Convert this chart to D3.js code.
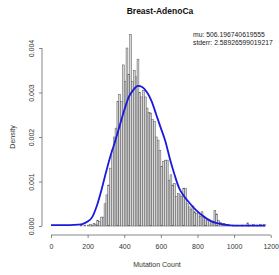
<!DOCTYPE html>
<html><head><meta charset="utf-8">
<script src="https://cdn.jsdelivr.net/npm/d3@7"></script>
<style>body{margin:0;background:#fff}svg{display:block}text{font-family:"Liberation Sans",Arial,sans-serif}</style>
</head><body>
<svg id="c" width="279" height="275"></svg>
<script>
const title = "Breast-AdenoCa";
const legendLines = ["mu: 506.196740619555", "stderr: 2.58926599019217"];
const xLabel = "Mutation Count";
const yLabel = "Density";
const xTicks = [0, 200, 400, 600, 800, 1000, 1200];
const yTicks = [0, 0.001, 0.002, 0.003, 0.004];
const yTickLabels = ["0.000", "0.001", "0.002", "0.003", "0.004"];
const binWidth = 10;
const binStarts = [160,180,200,210,220,230,240,250,260,270,280,290,300,310,320,330,340,350,360,370,380,390,400,410,420,430,440,450,460,470,480,490,500,510,520,530,540,550,560,570,580,590,600,610,620,630,640,650,660,670,680,690,700,710,720,730,740,750,760,770,780,790,800,810,820,830,840,850,860,870,880,890,900,910,920,930,940,950,960,970,990,1010,1040,1070,1080,1100,1120,1140,1160];
const binDensity = [0.00002,0.00002,0.00002,0.00004,0.00002,0.00006,0.00004,0.00013,0.0001,0.0002,0.0002,0.0005,0.0007,0.00092,0.0013,0.0017,0.002,0.0022,0.0028,0.00296,0.0028,0.00362,0.00325,0.004,0.0034,0.0043,0.00325,0.0035,0.00335,0.00375,0.003,0.0029,0.00305,0.0029,0.00265,0.00255,0.00254,0.0024,0.00235,0.002,0.00193,0.0017,0.00134,0.00145,0.00148,0.00148,0.00103,0.00115,0.00092,0.00095,0.00066,0.00073,0.0007,0.00066,0.00085,0.00085,0.0005,0.00043,0.00038,0.00045,0.00032,0.00028,0.0003,0.00022,0.00032,0.0002,0.00018,0.00013,0.00013,0.0001,0.00008,0.00035,0.00027,0.00013,0.00008,0.00004,0.00006,0.00002,0.00004,0.00002,0.00002,0.00002,0.00002,0.00007,0.00002,0.00004,0.00002,0.00004,0.00004];
const curveX = [0,50,100,150,175,200,225,250,275,300,325,350,375,400,425,450,475,500,525,550,575,600,625,650,675,700,725,750,775,800,825,850,875,900,950,1000,1100,1170];
const curveY = [0.00002,0.00002,0.00002,0.00003,0.00005,0.0001,0.0002,0.00045,0.0008,0.0012,0.00158,0.0019,0.00225,0.0026,0.0029,0.00306,0.00315,0.00312,0.003,0.0028,0.0025,0.0022,0.0019,0.0015,0.00115,0.00085,0.00068,0.00055,0.00043,0.00033,0.00024,0.00017,0.00011,0.00007,0.00003,0.00001,0.00001,0.00001];

const svg = d3.select("#c");
const x = d3.scaleLinear().domain([0, 1200]).range([51, 270.7]);
const y = d3.scaleLinear().domain([0, 0.004]).range([226, 48]);
const axisCol = "#555";

svg.append("g").selectAll("rect").data(binStarts.map((s,i)=>({s, d: binDensity[i]})))
  .join("rect")
  .attr("x", d => x(d.s))
  .attr("width", d => x(d.s + binWidth) - x(d.s))
  .attr("y", d => y(d.d))
  .attr("height", d => y(0) - y(d.d))
  .attr("fill", "#d8d8d8").attr("stroke", "#555").attr("stroke-width", 0.5);

svg.append("path").datum(curveX.map((v,i)=>[v, curveY[i]]))
  .attr("d", d3.line().x(d=>x(d[0])).y(d=>y(d[1])).curve(d3.curveMonotoneX))
  .attr("fill", "none").attr("stroke", "#1a1adf").attr("stroke-width", 1.8);

const xa = svg.append("g").attr("transform", "translate(0,235)")
  .call(d3.axisBottom(x).tickValues(xTicks).tickSize(3).tickPadding(6).tickFormat(d3.format("d")));
const ya = svg.append("g").attr("transform", "translate(42,0)")
  .call(d3.axisLeft(y).tickValues(yTicks).tickSize(3).tickFormat((d,i)=>yTickLabels[i]));
[xa, ya].forEach(a => {
  a.select(".domain").attr("stroke", axisCol).attr("stroke-width", 0.7);
  a.selectAll(".tick line").attr("stroke", axisCol).attr("stroke-width", 0.7);
  a.selectAll("text").attr("fill", "#333").style("font-size", "7px");
});
xa.select(".domain").attr("d", `M${x(0)},0H${x(1200)}`);
ya.select(".domain").attr("d", `M0,${y(0)}V${y(0.004)}`);
ya.selectAll(".tick text").attr("transform", "rotate(-90)").attr("text-anchor", "middle")
  .attr("x", 0).attr("dy", 0).attr("y", -8);

svg.append("text").attr("x", 160).attr("y", 14).attr("text-anchor", "middle")
  .style("font-size", "8.5px").style("font-weight", "bold").attr("fill", "#111").text(title);
svg.append("text").attr("x", 157).attr("y", 267).attr("text-anchor", "middle")
  .style("font-size", "7px").style("fill", "#333").text(xLabel);
svg.append("text").attr("transform", "translate(15,137) rotate(-90)").attr("text-anchor", "middle")
  .style("font-size", "7px").style("fill", "#333").text(yLabel);
legendLines.forEach((t,i) => svg.append("text").attr("x", 193).attr("y", 36.5 + i*8)
  .style("font-size", "6.8px").style("fill", "#222").text(t));
</script>
</body></html>
